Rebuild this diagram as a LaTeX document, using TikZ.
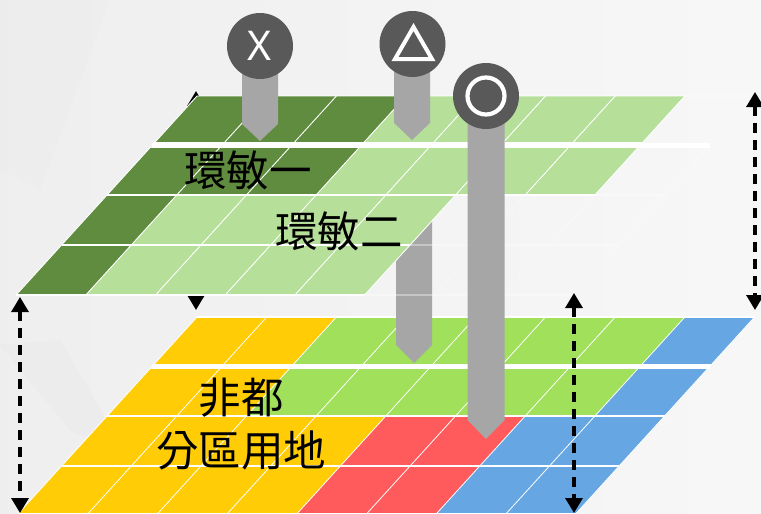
\documentclass[tikz,border=0pt]{standalone}
\usepackage{fontspec}
\newfontfamily\cjk{Noto Sans CJK TC}
\newfontfamily\latinsans{Noto Sans}
\usetikzlibrary{arrows.meta}
\definecolor{darkplot}{HTML}{5F8C3E}
\definecolor{lightplot}{HTML}{B6DF9A}
\definecolor{yellowzone}{HTML}{FFCC05}
\definecolor{greenzone}{HTML}{A0E05A}
\definecolor{redzone}{HTML}{FF5B5D}
\definecolor{bluezone}{HTML}{65A6E3}
\definecolor{pinbody}{HTML}{A6A6A6}
\definecolor{pinhead}{HTML}{595959}
\tikzset{
  gridline/.style={draw=white,line width=0.8pt},
  dimarrow/.style={line width=3.2pt,dash pattern=on 10pt off 7pt,{Triangle[length=15pt,width=17pt]}-{Triangle[length=15pt,width=17pt]}},
  headdot/.style={circle,fill=pinhead,minimum size=66pt,inner sep=0pt,text=white},
  maplabel/.style={font=\cjk\fontsize{42.5}{53}\selectfont,align=center,text=black,inner sep=0pt},
}
% x position on a plate: column #1, height #2, plate top #3
\newcommand{\platex}[3]{197+69.7*#1-0.909*(#2-#3)}
% one stretch of a row: top y0, row y1 to y2, columns c1 to c2, colour
\newcommand{\platecells}[6]{%
  \fill [#6] ({\platex{#4}{#2}{#1}},#2) -- ({\platex{#5}{#2}{#1}},#2) -- ({\platex{#5}{#3}{#1}},#3) -- ({\platex{#4}{#3}{#1}},#3) -- cycle;%
}
% white grid of a plate with top y0
\newcommand{\plategrid}[5]{%
  \foreach \c in {0,...,8} {
    \draw [gridline] ({\platex{\c}{#1}{#1}},#1) -- ({\platex{\c}{#5}{#1}},#5);%
  }
  \draw [draw=white,line width=1.2pt] ({\platex{0}{#1}{#1}},#1) -- ({\platex{8}{#1}{#1}},#1);%
  \draw [draw=white,line width=5pt] ({\platex{0}{#2}{#1}},#2) -- ({\platex{8}{#2}{#1}},#2);%
  \draw [draw=white,line width=1.4pt] ({\platex{0}{#3}{#1}},#3) -- ({\platex{8}{#3}{#1}},#3);%
  \draw [draw=white,line width=1.4pt] ({\platex{0}{#4}{#1}},#4) -- ({\platex{8}{#4}{#1}},#4);%
  \draw [draw=white,line width=1.2pt] ({\platex{0}{#5}{#1}},#5) -- ({\platex{8}{#5}{#1}},#5);%
}
% solid white lines on the coloured part of a row: top y0, y1, y2, last column
\newcommand{\rowgrid}[4]{%
  \foreach \c in {0,...,#4} {
    \draw [gridline] ({\platex{\c}{#2}{#1}},#2) -- ({\platex{\c}{#3}{#1}},#3);%
  }
  \draw [draw=white,line width=1.4pt] ({\platex{0}{#3}{#1}},#3) -- ({\platex{#4}{#3}{#1}},#3);%
}
% pin: centre x, half width, top, shoulder, tip
\newcommand{\pinshape}[5]{%
  \fill [pinbody] ({#1-#2},#3) -- ({#1+#2},#3) -- ({#1+#2},#4) -- (#1,#5) -- ({#1-#2},#4) -- cycle;%
}
\begin{document}
\begin{tikzpicture}[x=1pt,y=-1pt]
  \clip (0,0) rectangle (761,514);
  % Drawing background
  \shade [left color=black!6.5,right color=black!3] (0,0) rectangle (761,514);
  \fill [black!8,opacity=0.4] (0,0) -- (110,0) -- (40,190) -- (0,170) -- cycle;
  \fill [black!9,opacity=0.4] (0,345) -- (60,340) -- (130,460) -- (70,430) -- cycle;

  % Named ends of the height arrows
  \coordinate (lefttop) at (20,297);
  \coordinate (leftbot) at (20,513);
  \coordinate (midtop) at (196,91);
  \coordinate (midbot) at (196,310);
  \coordinate (righttop) at (755,92);
  \coordinate (rightbot) at (755,310);
  \coordinate (lowertop) at (574,293);
  \coordinate (lowerbot) at (574,513);

  % Drawing lower plate
  \platecells{317}{317}{364}{0}{2}{yellowzone}
  \platecells{317}{317}{364}{2}{7}{greenzone}
  \platecells{317}{317}{364}{7}{8}{bluezone}
  \platecells{317}{369}{416}{0}{2}{yellowzone}
  \platecells{317}{369}{416}{2}{7}{greenzone}
  \platecells{317}{369}{416}{7}{8}{bluezone}
  \platecells{317}{416}{466}{0}{4}{yellowzone}
  \platecells{317}{416}{466}{4}{6}{redzone}
  \platecells{317}{416}{466}{6}{8}{bluezone}
  \platecells{317}{466}{514}{0}{4}{yellowzone}
  \platecells{317}{466}{514}{4}{6}{redzone}
  \platecells{317}{466}{514}{6}{8}{bluezone}
  \plategrid{317}{366.5}{416}{466}{514}

  % Drawing lower part of triangle pin
  \pinshape{414}{18}{200}{345}{363}
  \draw [dimarrow] (midtop) -- (midbot);

  % Drawing upper plate
  \platecells{96}{96}{143}{0}{3}{darkplot}
  \platecells{96}{96}{143}{3}{7}{lightplot}
  \platecells{96}{148}{195}{0}{3}{darkplot}
  \platecells{96}{148}{195}{3}{7}{lightplot}
  \platecells{96}{195}{245}{0}{1}{darkplot}
  \platecells{96}{195}{245}{1}{5}{lightplot}
  \platecells{96}{245}{295}{0}{1}{darkplot}
  \platecells{96}{245}{295}{1}{5}{lightplot}
  \begin{scope}[opacity=0.35]
    \plategrid{96}{145.5}{195}{245}{295}
  \end{scope}
  \rowgrid{96}{96}{143}{7}
  \rowgrid{96}{148}{195}{7}
  \rowgrid{96}{195}{245}{5}
  \rowgrid{96}{245}{295}{5}
  \draw [draw=white,line width=5pt] ({\platex{0}{145.5}{96}},145.5) -- ({\platex{8}{145.5}{96}},145.5);

  % Drawing height arrows
  \draw [dimarrow] (lefttop) -- (leftbot);
  \draw [dimarrow] (righttop) -- (rightbot);
  \draw [dimarrow] (lowertop) -- (lowerbot);

  % Drawing labels
  \node [maplabel] (sensone) at (248,170) {環敏一};
  \node [maplabel] (senstwo) at (339,231) {環敏二};
  \node [maplabel] (nonurban) at (241,424) {非都\\分區用地};

  % Drawing pins
  \pinshape{260}{18}{70}{124}{141}
  \pinshape{412}{18}{70}{123}{140}
  \pinshape{486}{18.5}{110}{420}{439}
  \node [headdot,font=\latinsans\fontsize{41}{41}\selectfont] (headx) at (260,46) {X};
  \node [headdot] (headtri) at (412.5,44) {};
  \node [headdot] (headcirc) at (486,96) {};
  \draw [draw=white,line width=4pt,miter limit=4] (413.5,27) -- (432,59) -- (395,59) -- cycle;
  \draw [draw=white,line width=4.2pt] (headcirc.center) circle (18.5);
\end{tikzpicture}
\end{document}
